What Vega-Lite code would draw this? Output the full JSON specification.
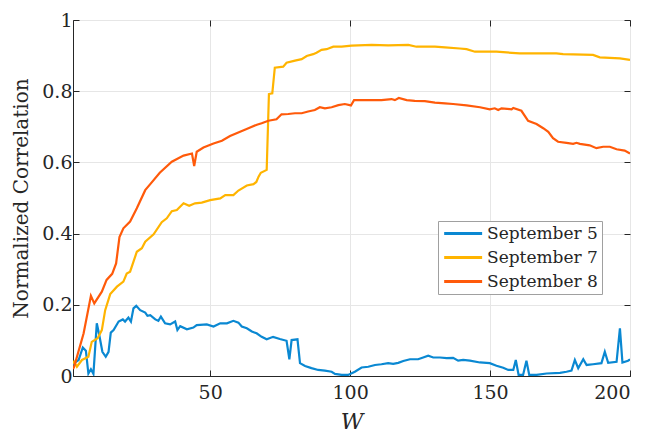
{
  "$schema": "https://vega.github.io/schema/vega-lite/v6.json",
  "width": 557,
  "height": 356,
  "autosize": {"type": "none"},
  "padding": {"left": 73, "top": 20, "right": 17, "bottom": 56},
  "background": "white",
  "config": {
    "font": "DejaVu Serif",
    "view": {"stroke": "#262626", "strokeWidth": 1},
    "axis": {
      "labelFont": "DejaVu Serif",
      "labelFontSize": 19,
      "labelColor": "#262626",
      "tickColor": "#262626",
      "tickSize": -6,
      "domainColor": "#262626",
      "gridColor": "#e6e6e6",
      "gridWidth": 1,
      "titleFont": "DejaVu Serif",
      "titleFontSize": 20,
      "titleFontWeight": "normal",
      "titleColor": "#262626"
    },
    "legend": {
      "orient": "none",
      "legendX": 365,
      "legendY": 201,
      "fillColor": "white",
      "strokeColor": "#a0a0a0",
      "padding": 4,
      "labelFont": "DejaVu Serif",
      "labelFontSize": 17,
      "labelColor": "#262626",
      "symbolType": "M-1,0H5",
      "symbolFillColor": "transparent",
      "symbolStrokeWidth": 3,
      "symbolSize": 160,
      "labelOffset": 28,
      "rowPadding": 6
    }
  },
  "data": {
    "values": [
      {"s": "September 5", "W": 1, "v": 0.03},
      {"s": "September 5", "W": 1.4, "v": 0.036},
      {"s": "September 5", "W": 3, "v": 0.045},
      {"s": "September 5", "W": 4.5, "v": 0.08},
      {"s": "September 5", "W": 5.6, "v": 0.071},
      {"s": "September 5", "W": 6.5, "v": 0.007},
      {"s": "September 5", "W": 7.4, "v": 0.019},
      {"s": "September 5", "W": 8.3, "v": 0.006},
      {"s": "September 5", "W": 9.5, "v": 0.148},
      {"s": "September 5", "W": 10.5, "v": 0.11},
      {"s": "September 5", "W": 11.5, "v": 0.068},
      {"s": "September 5", "W": 12.7, "v": 0.054},
      {"s": "September 5", "W": 13.7, "v": 0.068},
      {"s": "September 5", "W": 14.5, "v": 0.122},
      {"s": "September 5", "W": 15.5, "v": 0.129},
      {"s": "September 5", "W": 17.3, "v": 0.153},
      {"s": "September 5", "W": 18.8, "v": 0.159},
      {"s": "September 5", "W": 19.6, "v": 0.153},
      {"s": "September 5", "W": 20.8, "v": 0.164},
      {"s": "September 5", "W": 21.7, "v": 0.153},
      {"s": "September 5", "W": 22.6, "v": 0.19},
      {"s": "September 5", "W": 23.6, "v": 0.197},
      {"s": "September 5", "W": 25, "v": 0.185},
      {"s": "September 5", "W": 26.8, "v": 0.178},
      {"s": "September 5", "W": 27.6, "v": 0.169},
      {"s": "September 5", "W": 28.6, "v": 0.171},
      {"s": "September 5", "W": 30.4, "v": 0.159},
      {"s": "September 5", "W": 31.5, "v": 0.155},
      {"s": "September 5", "W": 32.4, "v": 0.167},
      {"s": "September 5", "W": 33.9, "v": 0.148},
      {"s": "September 5", "W": 35.7, "v": 0.145},
      {"s": "September 5", "W": 37.5, "v": 0.153},
      {"s": "September 5", "W": 38.3, "v": 0.129},
      {"s": "September 5", "W": 39.3, "v": 0.14},
      {"s": "September 5", "W": 41.7, "v": 0.131},
      {"s": "September 5", "W": 44, "v": 0.136},
      {"s": "September 5", "W": 45.2, "v": 0.143},
      {"s": "September 5", "W": 48.8, "v": 0.145},
      {"s": "September 5", "W": 51.2, "v": 0.139},
      {"s": "September 5", "W": 53.6, "v": 0.148},
      {"s": "September 5", "W": 56, "v": 0.148},
      {"s": "September 5", "W": 58.3, "v": 0.155},
      {"s": "September 5", "W": 60.1, "v": 0.15},
      {"s": "September 5", "W": 61.3, "v": 0.139},
      {"s": "September 5", "W": 63.1, "v": 0.134},
      {"s": "September 5", "W": 64.9, "v": 0.125},
      {"s": "September 5", "W": 66.6, "v": 0.12},
      {"s": "September 5", "W": 68.4, "v": 0.11},
      {"s": "September 5", "W": 70.2, "v": 0.103},
      {"s": "September 5", "W": 72.5, "v": 0.11},
      {"s": "September 5", "W": 74.9, "v": 0.104},
      {"s": "September 5", "W": 77.3, "v": 0.099},
      {"s": "September 5", "W": 78.3, "v": 0.047},
      {"s": "September 5", "W": 79.1, "v": 0.101},
      {"s": "September 5", "W": 81.2, "v": 0.103},
      {"s": "September 5", "W": 82.1, "v": 0.036},
      {"s": "September 5", "W": 83.9, "v": 0.028},
      {"s": "September 5", "W": 86.2, "v": 0.022},
      {"s": "September 5", "W": 88.6, "v": 0.017},
      {"s": "September 5", "W": 91, "v": 0.015},
      {"s": "September 5", "W": 93.4, "v": 0.012},
      {"s": "September 5", "W": 94.6, "v": 0.006},
      {"s": "September 5", "W": 97, "v": 0.003},
      {"s": "September 5", "W": 99.3, "v": 0.003},
      {"s": "September 5", "W": 101.7, "v": 0.012},
      {"s": "September 5", "W": 104.1, "v": 0.024},
      {"s": "September 5", "W": 106.5, "v": 0.026},
      {"s": "September 5", "W": 108.9, "v": 0.031},
      {"s": "September 5", "W": 111.2, "v": 0.033},
      {"s": "September 5", "W": 113.6, "v": 0.036},
      {"s": "September 5", "W": 115.4, "v": 0.034},
      {"s": "September 5", "W": 117.2, "v": 0.037},
      {"s": "September 5", "W": 119, "v": 0.042},
      {"s": "September 5", "W": 121.4, "v": 0.047},
      {"s": "September 5", "W": 124.3, "v": 0.047},
      {"s": "September 5", "W": 126.1, "v": 0.052},
      {"s": "September 5", "W": 127.9, "v": 0.057},
      {"s": "September 5", "W": 129.7, "v": 0.052},
      {"s": "September 5", "W": 132.1, "v": 0.052},
      {"s": "September 5", "W": 134.5, "v": 0.05},
      {"s": "September 5", "W": 136.8, "v": 0.051},
      {"s": "September 5", "W": 138.6, "v": 0.043},
      {"s": "September 5", "W": 140.4, "v": 0.045},
      {"s": "September 5", "W": 142.8, "v": 0.043},
      {"s": "September 5", "W": 146.4, "v": 0.038},
      {"s": "September 5", "W": 149.9, "v": 0.036},
      {"s": "September 5", "W": 152.3, "v": 0.029},
      {"s": "September 5", "W": 154.7, "v": 0.023},
      {"s": "September 5", "W": 156.5, "v": 0.017},
      {"s": "September 5", "W": 158.3, "v": 0.017},
      {"s": "September 5", "W": 159.2, "v": 0.045},
      {"s": "September 5", "W": 160.2, "v": 0.003},
      {"s": "September 5", "W": 161.8, "v": 0.003},
      {"s": "September 5", "W": 163, "v": 0.043},
      {"s": "September 5", "W": 164, "v": 0.003},
      {"s": "September 5", "W": 166.6, "v": 0.003},
      {"s": "September 5", "W": 170.2, "v": 0.007},
      {"s": "September 5", "W": 175, "v": 0.009},
      {"s": "September 5", "W": 177.3, "v": 0.012},
      {"s": "September 5", "W": 179.1, "v": 0.015},
      {"s": "September 5", "W": 180.3, "v": 0.045},
      {"s": "September 5", "W": 181.5, "v": 0.022},
      {"s": "September 5", "W": 183.3, "v": 0.047},
      {"s": "September 5", "W": 184.5, "v": 0.031},
      {"s": "September 5", "W": 186.8, "v": 0.033},
      {"s": "September 5", "W": 189.8, "v": 0.036},
      {"s": "September 5", "W": 191, "v": 0.068},
      {"s": "September 5", "W": 192.2, "v": 0.037},
      {"s": "September 5", "W": 195.2, "v": 0.04},
      {"s": "September 5", "W": 196.4, "v": 0.134},
      {"s": "September 5", "W": 197.3, "v": 0.038},
      {"s": "September 5", "W": 199.3, "v": 0.043},
      {"s": "September 5", "W": 200, "v": 0.047},

      {"s": "September 7", "W": 1, "v": 0.035},
      {"s": "September 7", "W": 1.4, "v": 0.04},
      {"s": "September 7", "W": 2.4, "v": 0.026},
      {"s": "September 7", "W": 4.2, "v": 0.045},
      {"s": "September 7", "W": 6.5, "v": 0.054},
      {"s": "September 7", "W": 7.7, "v": 0.096},
      {"s": "September 7", "W": 9.8, "v": 0.106},
      {"s": "September 7", "W": 11.3, "v": 0.129},
      {"s": "September 7", "W": 12.5, "v": 0.185},
      {"s": "September 7", "W": 14.3, "v": 0.23},
      {"s": "September 7", "W": 16.7, "v": 0.251},
      {"s": "September 7", "W": 19, "v": 0.265},
      {"s": "September 7", "W": 20.2, "v": 0.288},
      {"s": "September 7", "W": 21.4, "v": 0.293},
      {"s": "September 7", "W": 23.8, "v": 0.349},
      {"s": "September 7", "W": 25.6, "v": 0.359},
      {"s": "September 7", "W": 26.8, "v": 0.377},
      {"s": "September 7", "W": 29.8, "v": 0.398},
      {"s": "September 7", "W": 32.7, "v": 0.432},
      {"s": "September 7", "W": 34.5, "v": 0.443},
      {"s": "September 7", "W": 36.3, "v": 0.463},
      {"s": "September 7", "W": 38.1, "v": 0.466},
      {"s": "September 7", "W": 40.5, "v": 0.485},
      {"s": "September 7", "W": 42.5, "v": 0.478},
      {"s": "September 7", "W": 44.6, "v": 0.485},
      {"s": "September 7", "W": 47, "v": 0.487},
      {"s": "September 7", "W": 50, "v": 0.494},
      {"s": "September 7", "W": 53.6, "v": 0.499},
      {"s": "September 7", "W": 55.4, "v": 0.508},
      {"s": "September 7", "W": 58.3, "v": 0.508},
      {"s": "September 7", "W": 60.1, "v": 0.521},
      {"s": "September 7", "W": 63.1, "v": 0.535},
      {"s": "September 7", "W": 65.5, "v": 0.539},
      {"s": "September 7", "W": 66.5, "v": 0.545},
      {"s": "September 7", "W": 67.3, "v": 0.56},
      {"s": "September 7", "W": 68.1, "v": 0.571},
      {"s": "September 7", "W": 70.2, "v": 0.579},
      {"s": "September 7", "W": 71, "v": 0.792},
      {"s": "September 7", "W": 72.2, "v": 0.794},
      {"s": "September 7", "W": 73.1, "v": 0.866},
      {"s": "September 7", "W": 76.1, "v": 0.869},
      {"s": "September 7", "W": 77.3, "v": 0.88},
      {"s": "September 7", "W": 80.3, "v": 0.886},
      {"s": "September 7", "W": 82.7, "v": 0.89},
      {"s": "September 7", "W": 84.5, "v": 0.899},
      {"s": "September 7", "W": 86.8, "v": 0.904},
      {"s": "September 7", "W": 88, "v": 0.908},
      {"s": "September 7", "W": 89.8, "v": 0.916},
      {"s": "September 7", "W": 91.6, "v": 0.918},
      {"s": "September 7", "W": 94, "v": 0.925},
      {"s": "September 7", "W": 97, "v": 0.925},
      {"s": "September 7", "W": 100.5, "v": 0.928},
      {"s": "September 7", "W": 107.7, "v": 0.93},
      {"s": "September 7", "W": 113.6, "v": 0.929},
      {"s": "September 7", "W": 120.8, "v": 0.93},
      {"s": "September 7", "W": 123.7, "v": 0.925},
      {"s": "September 7", "W": 130.3, "v": 0.925},
      {"s": "September 7", "W": 133.9, "v": 0.923},
      {"s": "September 7", "W": 139.2, "v": 0.92},
      {"s": "September 7", "W": 141.6, "v": 0.918},
      {"s": "September 7", "W": 144.6, "v": 0.911},
      {"s": "September 7", "W": 152.3, "v": 0.911},
      {"s": "September 7", "W": 160.6, "v": 0.906},
      {"s": "September 7", "W": 173.7, "v": 0.906},
      {"s": "September 7", "W": 176.1, "v": 0.904},
      {"s": "September 7", "W": 186.8, "v": 0.902},
      {"s": "September 7", "W": 189.2, "v": 0.895},
      {"s": "September 7", "W": 196.4, "v": 0.892},
      {"s": "September 7", "W": 200, "v": 0.888},

      {"s": "September 8", "W": 1, "v": 0.02},
      {"s": "September 8", "W": 1.4, "v": 0.026},
      {"s": "September 8", "W": 4.8, "v": 0.12},
      {"s": "September 8", "W": 7.4, "v": 0.225},
      {"s": "September 8", "W": 8.6, "v": 0.204},
      {"s": "September 8", "W": 11.3, "v": 0.237},
      {"s": "September 8", "W": 13, "v": 0.27},
      {"s": "September 8", "W": 15, "v": 0.287},
      {"s": "September 8", "W": 16.4, "v": 0.316},
      {"s": "September 8", "W": 17.6, "v": 0.39},
      {"s": "September 8", "W": 19, "v": 0.415},
      {"s": "September 8", "W": 21.4, "v": 0.434},
      {"s": "September 8", "W": 23.8, "v": 0.471},
      {"s": "September 8", "W": 26.8, "v": 0.522},
      {"s": "September 8", "W": 28.6, "v": 0.539},
      {"s": "September 8", "W": 32, "v": 0.571},
      {"s": "September 8", "W": 36.3, "v": 0.602},
      {"s": "September 8", "W": 40.5, "v": 0.619},
      {"s": "September 8", "W": 43.5, "v": 0.625},
      {"s": "September 8", "W": 44.3, "v": 0.59},
      {"s": "September 8", "W": 45.2, "v": 0.63},
      {"s": "September 8", "W": 47.6, "v": 0.642},
      {"s": "September 8", "W": 51.2, "v": 0.653},
      {"s": "September 8", "W": 54.2, "v": 0.661},
      {"s": "September 8", "W": 57.1, "v": 0.674},
      {"s": "September 8", "W": 60.7, "v": 0.686},
      {"s": "September 8", "W": 64.3, "v": 0.698},
      {"s": "September 8", "W": 66.7, "v": 0.706},
      {"s": "September 8", "W": 68.4, "v": 0.71},
      {"s": "September 8", "W": 70.8, "v": 0.717},
      {"s": "September 8", "W": 73.7, "v": 0.721},
      {"s": "September 8", "W": 75.5, "v": 0.735},
      {"s": "September 8", "W": 77.9, "v": 0.736},
      {"s": "September 8", "W": 80.3, "v": 0.738},
      {"s": "September 8", "W": 82.7, "v": 0.738},
      {"s": "September 8", "W": 85, "v": 0.743},
      {"s": "September 8", "W": 87.4, "v": 0.747},
      {"s": "September 8", "W": 89.2, "v": 0.755},
      {"s": "September 8", "W": 91, "v": 0.752},
      {"s": "September 8", "W": 93.4, "v": 0.755},
      {"s": "September 8", "W": 95.8, "v": 0.761},
      {"s": "September 8", "W": 98.1, "v": 0.764},
      {"s": "September 8", "W": 100.3, "v": 0.76},
      {"s": "September 8", "W": 101.4, "v": 0.775},
      {"s": "September 8", "W": 107.7, "v": 0.775},
      {"s": "September 8", "W": 111.2, "v": 0.775},
      {"s": "September 8", "W": 114.8, "v": 0.778},
      {"s": "September 8", "W": 116, "v": 0.775},
      {"s": "September 8", "W": 117.4, "v": 0.781},
      {"s": "September 8", "W": 120.2, "v": 0.775},
      {"s": "September 8", "W": 123.1, "v": 0.773},
      {"s": "September 8", "W": 126.7, "v": 0.772},
      {"s": "September 8", "W": 130.3, "v": 0.768},
      {"s": "September 8", "W": 133.9, "v": 0.766},
      {"s": "September 8", "W": 136.8, "v": 0.764},
      {"s": "September 8", "W": 141.6, "v": 0.76},
      {"s": "September 8", "W": 146.4, "v": 0.755},
      {"s": "September 8", "W": 149.9, "v": 0.749},
      {"s": "September 8", "W": 151.7, "v": 0.752},
      {"s": "September 8", "W": 152.9, "v": 0.747},
      {"s": "September 8", "W": 154.1, "v": 0.752},
      {"s": "September 8", "W": 157.7, "v": 0.749},
      {"s": "September 8", "W": 158.3, "v": 0.753},
      {"s": "September 8", "W": 161.2, "v": 0.745},
      {"s": "September 8", "W": 163.6, "v": 0.717},
      {"s": "September 8", "W": 166.6, "v": 0.708},
      {"s": "September 8", "W": 169, "v": 0.696},
      {"s": "September 8", "W": 170.8, "v": 0.686},
      {"s": "September 8", "W": 172.5, "v": 0.668},
      {"s": "September 8", "W": 174.3, "v": 0.658},
      {"s": "September 8", "W": 177.3, "v": 0.655},
      {"s": "September 8", "W": 179.7, "v": 0.652},
      {"s": "September 8", "W": 180.9, "v": 0.655},
      {"s": "September 8", "W": 182.1, "v": 0.652},
      {"s": "September 8", "W": 185.6, "v": 0.648},
      {"s": "September 8", "W": 188, "v": 0.64},
      {"s": "September 8", "W": 190.4, "v": 0.644},
      {"s": "September 8", "W": 192.8, "v": 0.644},
      {"s": "September 8", "W": 195.2, "v": 0.637},
      {"s": "September 8", "W": 198.1, "v": 0.633},
      {"s": "September 8", "W": 200, "v": 0.625}
    ]
  },
  "layer": [
    {
      "mark": {"type": "line", "strokeWidth": 2.2, "clip": true},
      "encoding": {
        "x": {
          "field": "W",
          "type": "quantitative",
          "scale": {"domain": [1, 200], "nice": false},
          "axis": {
            "values": [50, 100, 150, 200],
            "title": "W",
            "titleFontStyle": "italic",
            "titleFontSize": 22,
            "labelPadding": 13,
            "titlePadding": 9
          }
        },
        "y": {
          "field": "v",
          "type": "quantitative",
          "scale": {"domain": [0, 1], "nice": false},
          "axis": {
            "values": [0, 0.2, 0.4, 0.6, 0.8, 1],
            "format": "~g",
            "title": "Normalized Correlation",
            "labelPadding": 7,
            "titlePadding": 10
          }
        },
        "color": {
          "field": "s",
          "type": "nominal",
          "scale": {
            "domain": ["September 5", "September 7", "September 8"],
            "range": ["#0A88D2", "#FFB400", "#FF5A0A"]
          },
          "legend": {"title": null}
        }
      }
    },
    {
      "mark": {"type": "line", "opacity": 0},
      "encoding": {
        "x": {
          "field": "W",
          "type": "quantitative",
          "axis": {"orient": "top", "values": [50, 100, 150, 200], "labels": false, "title": null, "grid": false, "domain": false}
        },
        "y": {
          "field": "v",
          "type": "quantitative",
          "axis": {"orient": "right", "values": [0, 0.2, 0.4, 0.6, 0.8, 1], "labels": false, "title": null, "grid": false, "domain": false}
        },
        "detail": {"field": "s", "type": "nominal"}
      }
    }
  ],
  "resolve": {"axis": {"x": "independent", "y": "independent"}}
}
